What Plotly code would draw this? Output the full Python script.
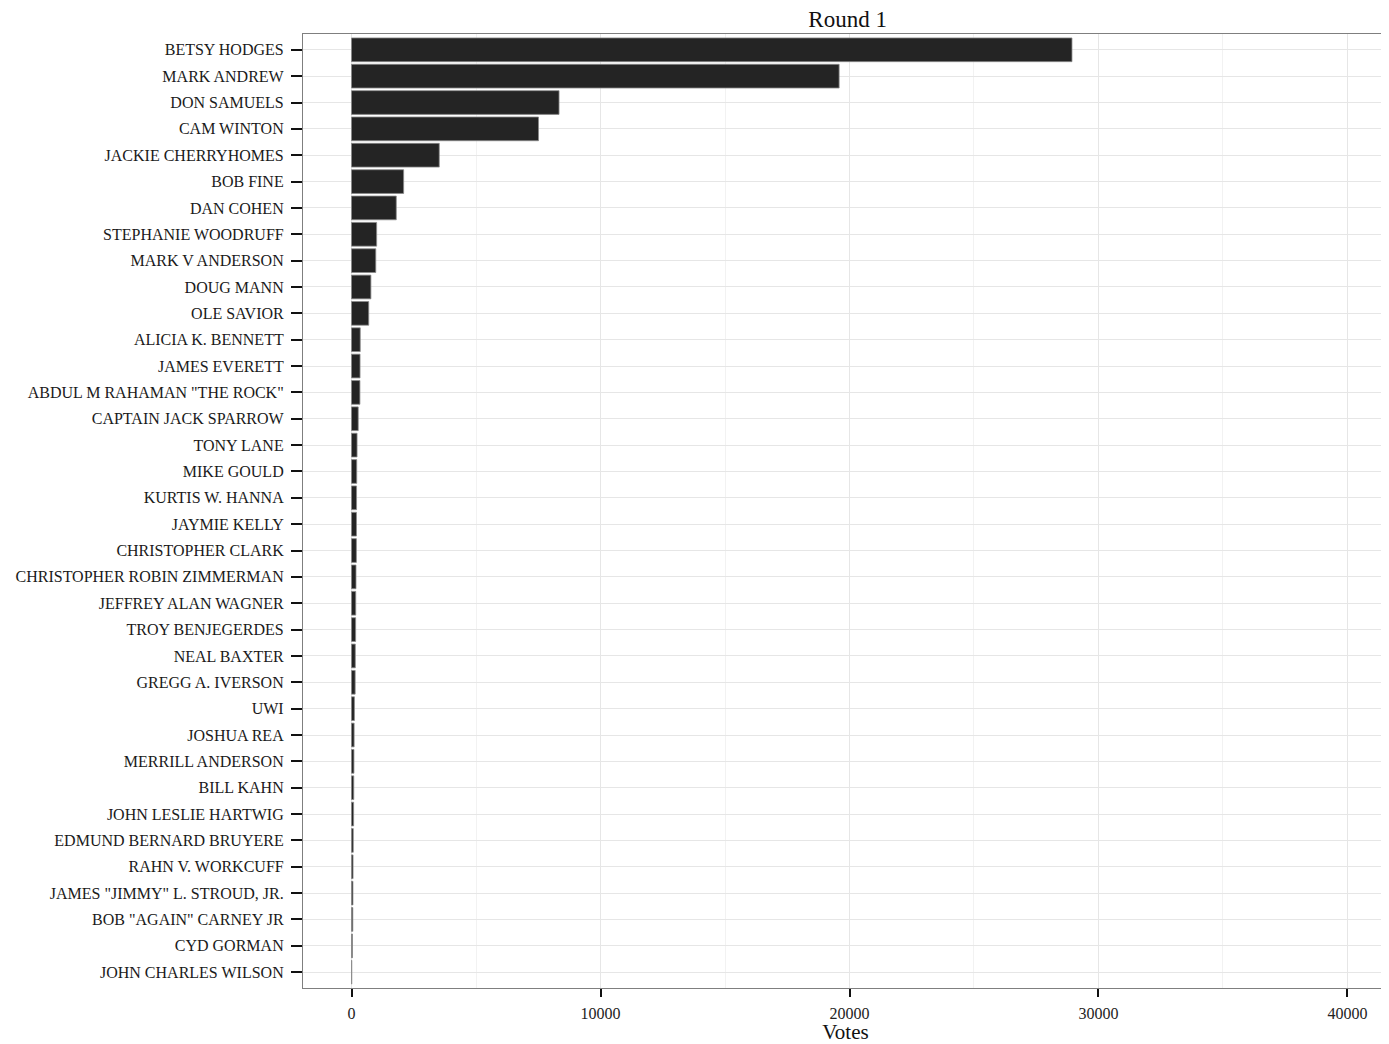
import plotly.graph_objects as go

candidates = [
    "BETSY HODGES", "MARK ANDREW", "DON SAMUELS", "CAM WINTON", "JACKIE CHERRYHOMES",
    "BOB FINE", "DAN COHEN", "STEPHANIE WOODRUFF", "MARK V ANDERSON", "DOUG MANN",
    "OLE SAVIOR", "ALICIA K. BENNETT", "JAMES EVERETT", 'ABDUL M RAHAMAN "THE ROCK"',
    "CAPTAIN JACK SPARROW", "TONY LANE", "MIKE GOULD", "KURTIS W. HANNA", "JAYMIE KELLY",
    "CHRISTOPHER CLARK", "CHRISTOPHER ROBIN ZIMMERMAN", "JEFFREY ALAN WAGNER",
    "TROY BENJEGERDES", "NEAL BAXTER", "GREGG A. IVERSON", "UWI", "JOSHUA REA",
    "MERRILL ANDERSON", "BILL KAHN", "JOHN LESLIE HARTWIG", "EDMUND BERNARD BRUYERE",
    "RAHN V. WORKCUFF", 'JAMES "JIMMY" L. STROUD, JR.', 'BOB "AGAIN" CARNEY JR',
    "CYD GORMAN", "JOHN CHARLES WILSON",
]
votes = [
    28935, 19584, 8335, 7511, 3524,
    2094, 1798, 1010, 975, 779,
    692, 351, 343, 338, 270,
    223, 210, 203, 200,
    196, 180, 170,
    166, 153, 147, 117, 105,
    98, 90, 85, 70,
    62, 58, 52,
    40, 12,
]
x_ticks = [0, 10000, 20000, 30000, 40000]
title_text = "Round 1"
x_title = "Votes"

font_family = "Liberation Serif, DejaVu Serif, serif"

fig = go.Figure(go.Bar(
    x=votes, y=candidates, orientation="h",
    width=0.9,
    marker=dict(color="#242424", line=dict(color="#8a8a8a", width=0.8)),
))

fig.update_layout(
    width=1381, height=1036,
    margin=dict(l=295, r=1, t=26, b=56, autoexpand=False),
    paper_bgcolor="white", plot_bgcolor="white",
    showlegend=False,
    bargap=0.1,
    font=dict(family=font_family, size=16, color="#1a1a1a"),
    title=dict(text=title_text, x=0.608, xanchor="center", y=0.9895, yanchor="middle",
               font=dict(family=font_family, size=23, color="#111")),
)
fig.update_xaxes(
    range=[-1948, 41627],
    tickvals=x_ticks, ticktext=[str(v) for v in x_ticks],
    tickfont=dict(size=16, color="#222"),
    showgrid=True, gridcolor="#e6e6e6", gridwidth=1.2,
    minor=dict(dtick=5000, tick0=0, showgrid=True, gridcolor="#f2f2f2", gridwidth=1),
    ticks="outside", ticklen=8, tickwidth=2, tickcolor="#111",
    ticklabelstandoff=3,
    showline=True, linecolor="#7f7f7f", linewidth=1.2, mirror=True,
    zeroline=False, automargin=False,
    title=dict(text=x_title, font=dict(size=21, color="#111"), standoff=6),
)
fig.update_yaxes(
    categoryorder="array", categoryarray=candidates,
    autorange=False, range=[35.6, -0.6],
    tickfont=dict(size=16, color="#1a1a1a"),
    showgrid=True, gridcolor="#e6e6e6", gridwidth=1.2,
    ticks="outside", ticklen=11, tickwidth=2, tickcolor="#111",
    ticklabelstandoff=4,
    showline=True, linecolor="#7f7f7f", linewidth=1.2, mirror=True,
    zeroline=False, automargin=False,
)

fig.write_html("out.html")
